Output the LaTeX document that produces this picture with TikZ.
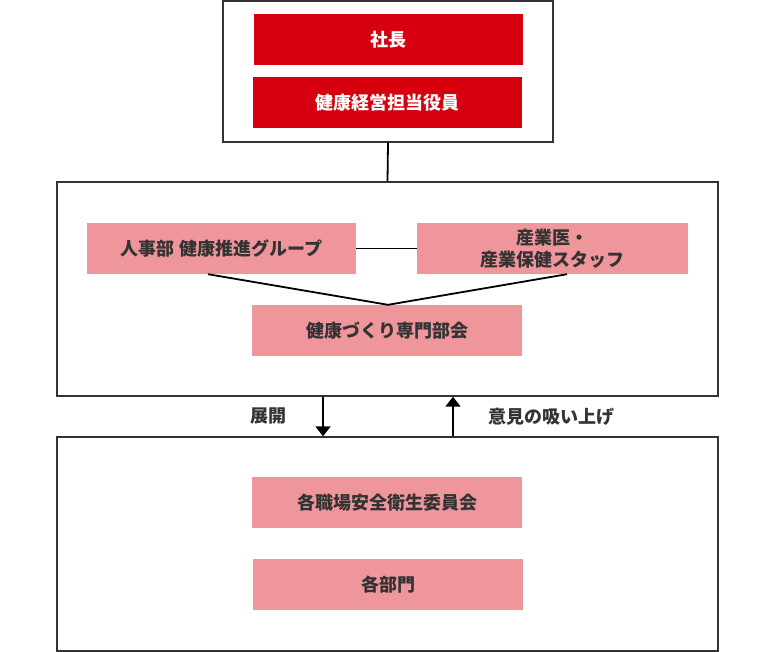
\documentclass[tikz,border=0pt]{standalone}
\usepackage{fontspec}
\setmainfont{Noto Sans CJK JP}
\usetikzlibrary{arrows.meta}
\definecolor{kred}{HTML}{D7000F}
\definecolor{kpink}{HTML}{EF959C}
\definecolor{ktext}{HTML}{333333}
\definecolor{kframe}{HTML}{333333}
\tikzset{
  frame/.style={draw=kframe, line width=1.3pt, fill=white, inner sep=0pt},
  redbox/.style={fill=kred, text=white, font=\fontsize{18}{21}\selectfont\bfseries, minimum width=269pt, minimum height=51pt, inner sep=0pt},
  pinkbox/.style={fill=kpink, text=ktext, font=\fontsize{18}{22}\selectfont\bfseries, minimum width=270pt, minimum height=51pt, inner sep=0pt, align=center},
  conn/.style={draw=black, line width=1.8pt},
  lbl/.style={text=ktext, font=\fontsize{18}{21}\selectfont\bfseries, inner sep=0pt},
  arr/.style={conn, -{Triangle[width=15pt,length=10pt]}}
}
\begin{document}
\begin{tikzpicture}[x=1pt,y=-1pt]
\useasboundingbox (0,0) rectangle (775,652);
% frames
\node[frame, minimum width=330pt, minimum height=141pt] (top) at (388,71.5) {};
\node[frame, minimum width=661pt, minimum height=214pt] (mid) at (387.5,289) {};
\node[frame, minimum width=661pt, minimum height=214pt] (bot) at (387.5,544) {};
% top boxes
\node[redbox] (pres) at (388.5,39.5) {社長};
\node[redbox] (exec) at (387.5,102.5) {健康経営担当役員};
% middle boxes
\node[pinkbox, minimum width=269pt] (hr) at (221.5,248.5) {人事部 健康推進グループ};
\node[pinkbox, minimum width=271pt] (doc) at (552.5,248.5) {産業医・\\産業保健スタッフ};
\node[pinkbox] (comm) at (387,330.5) {健康づくり専門部会};
% bottom boxes
\node[pinkbox] (safety) at (387,502.5) {各職場安全衛生委員会};
\node[pinkbox] (dept) at (388,584.5) {各部門};
% connectors
\draw[conn] (top.south) -- (mid.north);
\draw[conn] (hr.east) -- (doc.west);
\draw[conn] ([xshift=-13.5pt]hr.south) -- ([xshift=1pt]comm.north);
\draw[conn] ([xshift=14.5pt]doc.south) -- ([xshift=1pt]comm.north);
\draw[arr] ([xshift=-64.5pt]mid.south) -- ([xshift=-64.5pt]bot.north);
\draw[arr] ([xshift=65.5pt]bot.north) -- ([xshift=65.5pt]mid.south);
% labels
\node[lbl] (deploy) at (268,416.5) {展開};
\node[lbl] (voice) at (551,417) {意見の吸い上げ};
\end{tikzpicture}
\end{document}
